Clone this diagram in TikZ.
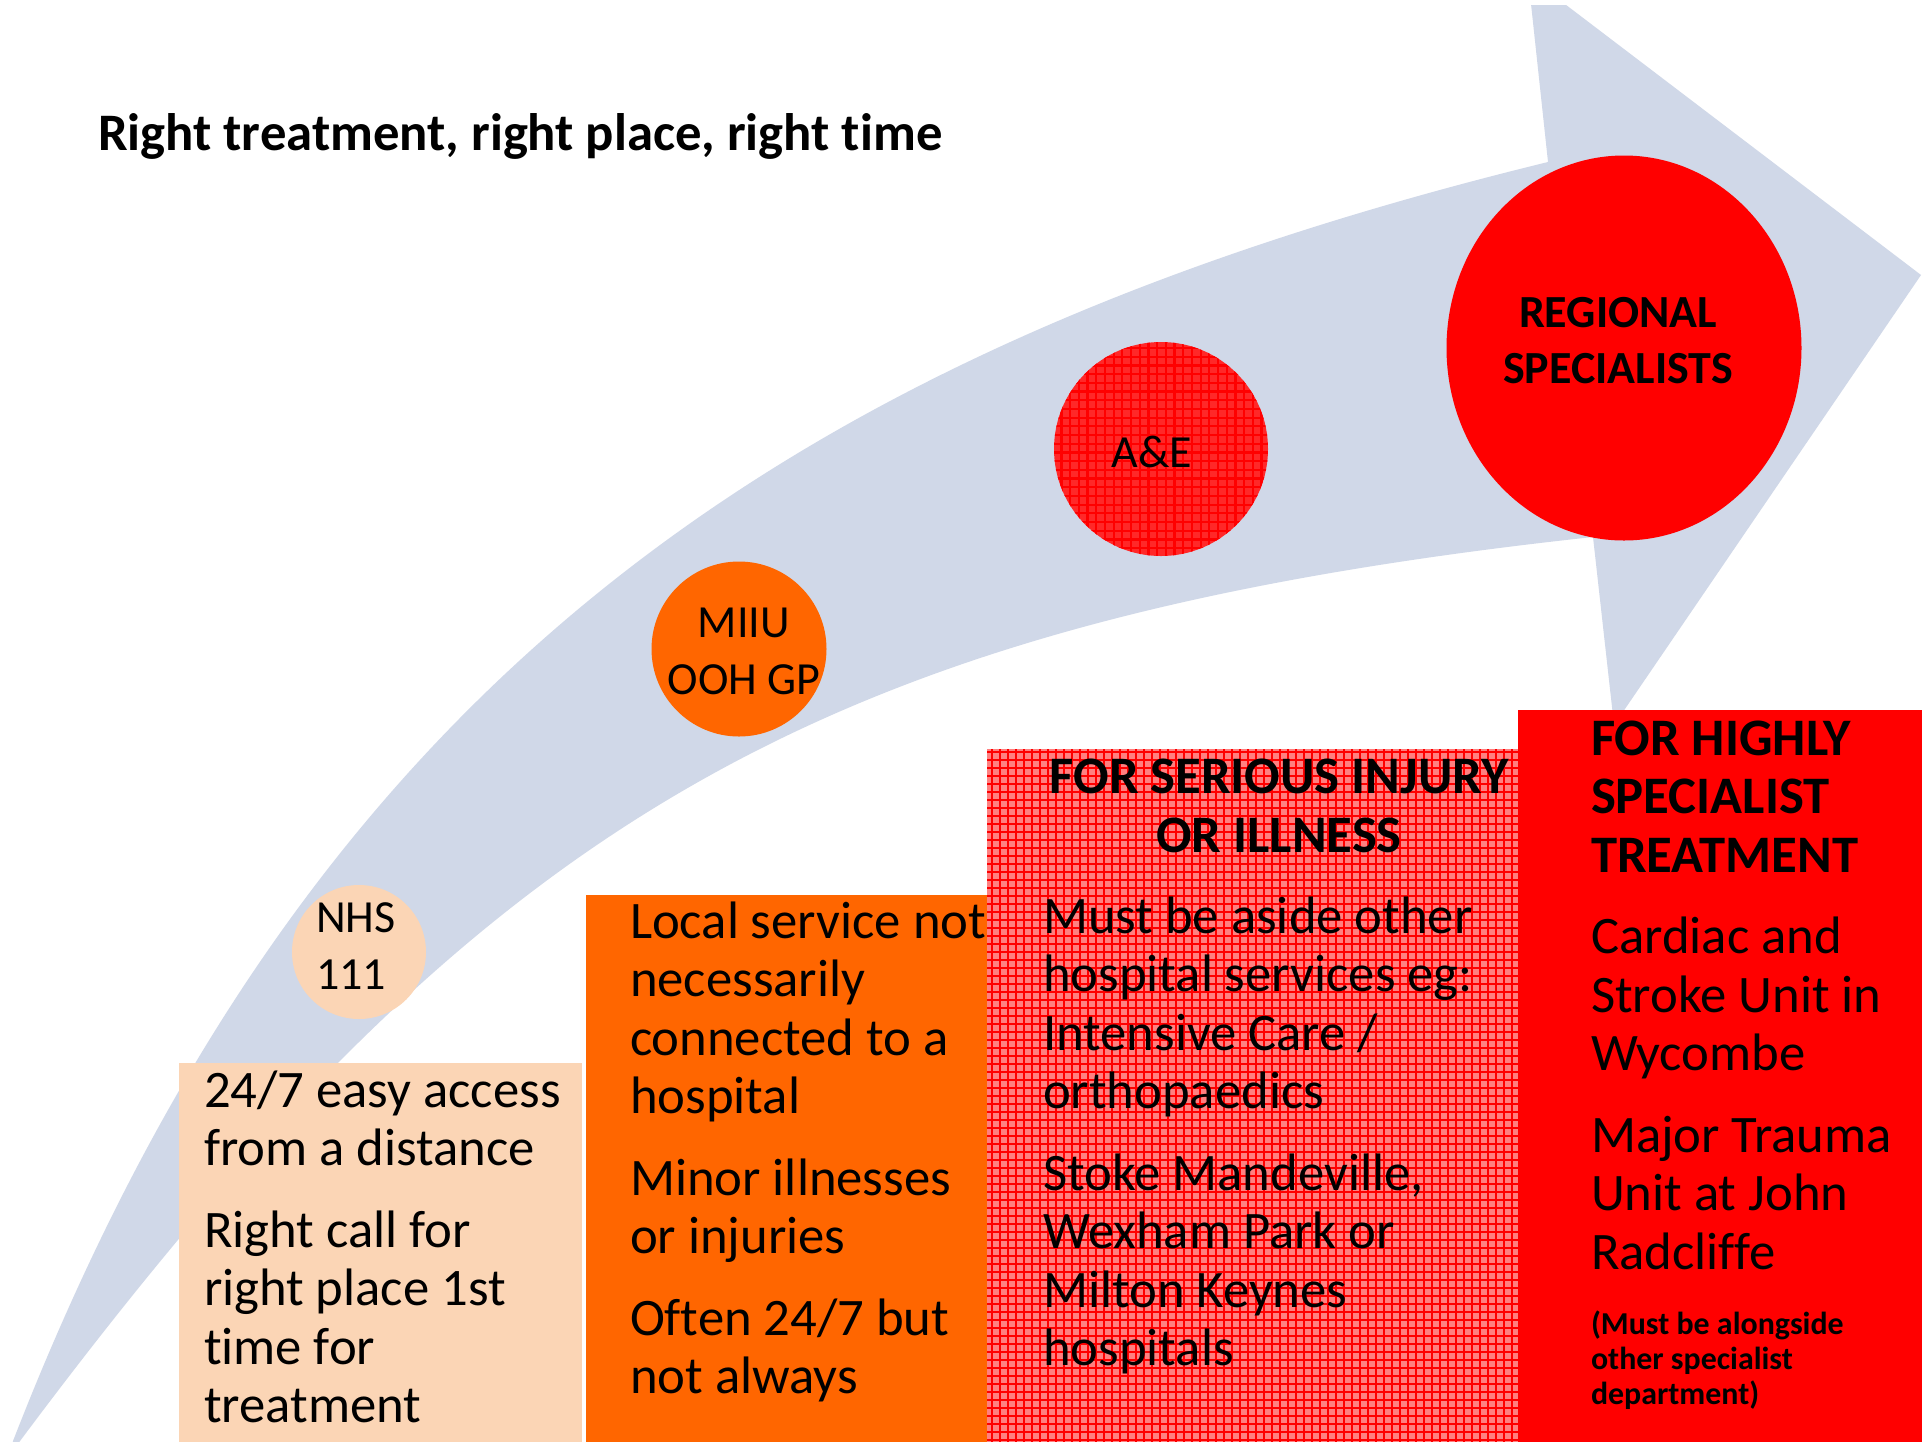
\documentclass[tikz,border=0pt]{standalone}
\usepackage{fontspec}
\setmainfont{Carlito}[Ligatures=NoCommon]
\usetikzlibrary{shapes.geometric}
\definecolor{band}{RGB}{208,216,232}
\definecolor{peach}{RGB}{251,213,181}
\definecolor{orng}{RGB}{255,102,0}
\definecolor{hatchbg}{RGB}{255,128,128}
\definecolor{hatchbgb}{RGB}{255,40,40}
\begin{document}
\begin{tikzpicture}[x=1pt,y=-1pt,
  every node/.style={inner sep=0pt, outer sep=0pt},
  body/.style={anchor=base west, text=black, font=\fontsize{52.7pt}{58.5pt}\selectfont},
  bodyb/.style={anchor=base west, text=black, font=\fontsize{52.7pt}{58.5pt}\selectfont\bfseries},
  bodybc/.style={anchor=base, text=black, font=\fontsize{52.7pt}{58.5pt}\selectfont\bfseries},
  circtext/.style={anchor=base, text=black, font=\fontsize{46pt}{56pt}\selectfont},
  circtextl/.style={anchor=base west, text=black, font=\fontsize{46pt}{56pt}\selectfont},
  circb/.style={anchor=base, text=black, font=\fontsize{46pt}{56pt}\selectfont\bfseries},
  smallb/.style={anchor=base west, text=black, font=\fontsize{31.9pt}{35pt}\selectfont\bfseries},
  boxnode/.style={rectangle, anchor=north west, draw=none},
  dot/.style={circle, draw=none}
]
\useasboundingbox (0,0) rectangle (1922,1441);
\fill[white] (0,0) rectangle (1922,1441);

% curved arrow
\begin{scope}
\clip (0,5) rectangle (1922,1441);
\fill[band] (8,1462) -- (13,1441)
  .. controls (303,695) and (771,352) .. (1548,162)
  -- (1528,-24) -- (1921,275) -- (1614,725) -- (1593,537)
  .. controls (798,623) and (474,833) .. (20,1441)
  -- cycle;
\end{scope}

% title
\node[bodyb] (title) at (98,150) {Right treatment, right place, right time};

% circles
\node[dot, fill=peach, minimum size=134pt] (nhs) at (359,952) {};
\node[dot, fill=orng, minimum size=175pt] (miiu) at (739,649) {};
\node[dot, fill=hatchbgb, minimum size=214pt] (ae) at (1161,449) {};
\begin{scope}
\clip (1161,449) circle[radius=107];
\draw[red, line width=2.2pt, step=8.7pt] (1050,340) grid (1272,560);
\end{scope}
\node[ellipse, fill=red, draw=none, minimum width=355pt, minimum height=385pt] (reg) at (1624,348) {};

\node[circtextl] (nhs1) at (316,932) {NHS};
\node[circtextl] (nhs2) at (316,989) {111};
\node[circtext] (miiu1) at (744,637) {MIIU};
\node[circtext] (miiu2) at (744,694) {OOH GP};
\node[circtext] (ae1) at (1152,467) {A\&E};
\node[circb] (reg1) at (1618,327) {REGIONAL};
\node[circb] (reg2) at (1618,383) {SPECIALISTS};

% boxes
\node[boxnode, fill=peach, minimum width=403pt, minimum height=380pt] (b1) at (179,1063) {};
\node[boxnode, fill=orng, minimum width=401pt, minimum height=548pt] (b2) at (586,895) {};
\node[boxnode, fill=hatchbg, minimum width=531pt, minimum height=694pt] (b3) at (987,749) {};
\begin{scope}
\clip (987,749) rectangle (1518,1443);
\draw[red, line width=2pt, step=8pt] (984,744) grid (1520,1443);
\end{scope}
\node[boxnode, fill=red, minimum width=404pt, minimum height=733pt] (b4) at (1518,710) {};

% box 1 text
\node[body] (t1a) at (204,1107) {24/7 easy access};
\node[body] (t1b) at (204,1165.5) {from a distance};
\node[body] (t1c) at (204,1247) {Right call for};
\node[body] (t1d) at (204,1305.5) {right place 1st};
\node[body] (t1e) at (204,1364) {time for};
\node[body] (t1f) at (204,1422.5) {treatment};

% box 2 text
\node[body] (t2a) at (630,938) {Local service not};
\node[body] (t2b) at (630,996.5) {necessarily};
\node[body] (t2c) at (630,1055) {connected to a};
\node[body] (t2d) at (630,1113.5) {hospital};
\node[body] (t2e) at (630,1195) {Minor illnesses};
\node[body] (t2f) at (630,1253.5) {or injuries};
\node[body] (t2g) at (630,1335) {Often 24/7 but};
\node[body] (t2h) at (630,1393.5) {not always};

% box 3 text
\node[bodybc] (t3a) at (1279,793) {FOR SERIOUS INJURY};
\node[bodybc] (t3b) at (1279,852) {OR ILLNESS};
\node[body] (t3c) at (1043,933) {Must be aside other};
\node[body] (t3d) at (1043,991.5) {hospital services eg:};
\node[body] (t3e) at (1043,1050) {Intensive Care /};
\node[body] (t3f) at (1043,1108.5) {orthopaedics};
\node[body] (t3g) at (1043,1190) {Stoke Mandeville,};
\node[body] (t3h) at (1043,1248.5) {Wexham Park or};
\node[body] (t3i) at (1043,1307) {Milton Keynes};
\node[body] (t3j) at (1043,1365.5) {hospitals};

% box 4 text
\node[bodyb] (t4a) at (1591,755) {FOR HIGHLY};
\node[bodyb] (t4b) at (1591,813.5) {SPECIALIST};
\node[bodyb] (t4c) at (1591,872) {TREATMENT};
\node[body] (t4d) at (1591,953.5) {Cardiac and};
\node[body] (t4e) at (1591,1012) {Stroke Unit in};
\node[body] (t4f) at (1591,1070.5) {Wycombe};
\node[body] (t4g) at (1591,1152) {Major Trauma};
\node[body] (t4h) at (1591,1210.5) {Unit at John};
\node[body] (t4i) at (1591,1269) {Radcliffe};
\node[smallb] (t4j) at (1591,1334) {(Must be alongside};
\node[smallb] (t4k) at (1591,1369) {other specialist};
\node[smallb] (t4l) at (1591,1404) {department)};
\end{tikzpicture}
\end{document}
